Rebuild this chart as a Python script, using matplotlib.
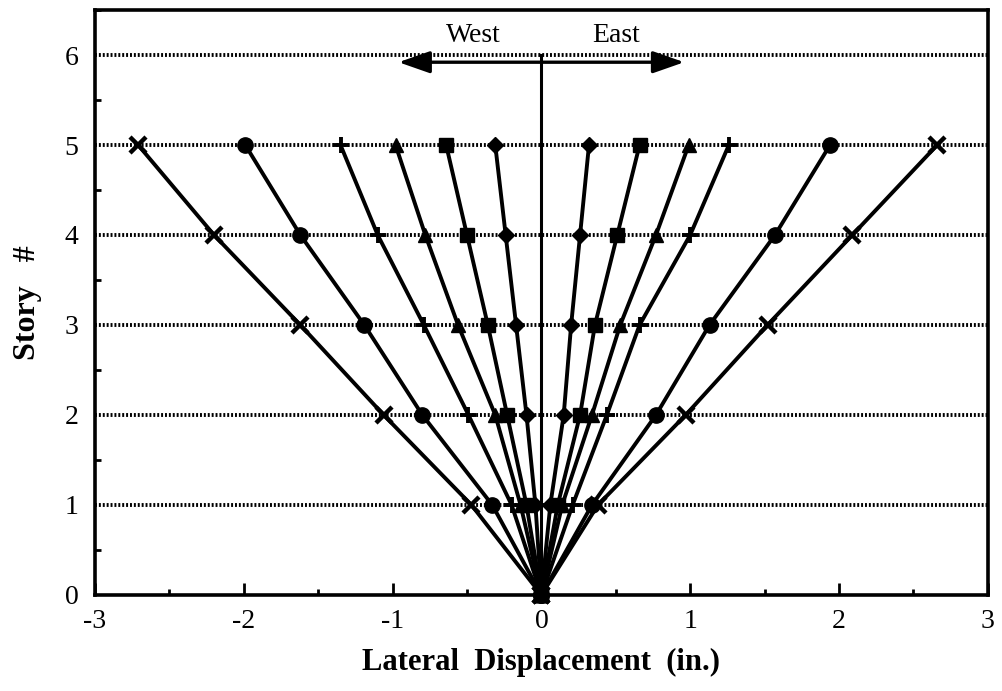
import matplotlib
matplotlib.use("Agg")
import matplotlib.pyplot as plt
from matplotlib.ticker import MultipleLocator

plt.rcParams["font.family"] = ["Liberation Serif", "DejaVu Serif"]

# story levels and peak lateral displacement (in.) per load case
stories = [0, 1, 2, 3, 4, 5]
west_x = [0, -0.47, -1.06, -1.62, -2.20, -2.71]
east_x = [0, 0.38, 0.97, 1.52, 2.09, 2.66]
west_circle = [0, -0.33, -0.80, -1.19, -1.62, -1.99]
east_circle = [0, 0.34, 0.77, 1.13, 1.57, 1.94]
west_plus = [0, -0.20, -0.49, -0.79, -1.10, -1.35]
east_plus = [0, 0.21, 0.44, 0.66, 1.00, 1.26]
west_tri = [0, -0.14, -0.31, -0.56, -0.78, -0.98]
east_tri = [0, 0.14, 0.34, 0.53, 0.77, 0.99]
west_square = [0, -0.10, -0.23, -0.36, -0.50, -0.64]
east_square = [0, 0.11, 0.26, 0.36, 0.51, 0.66]
west_diamond = [0, -0.04, -0.10, -0.17, -0.24, -0.31]
east_diamond = [0, 0.06, 0.15, 0.20, 0.26, 0.32]

floor_levels = [1, 2, 3, 4, 5, 6]
x_ticks = [-3, -2, -1, 0, 1, 2, 3]
y_ticks = [0, 1, 2, 3, 4, 5, 6]

series = [
    (west_x, east_x, "x", 12, 3.2),
    (west_circle, east_circle, "o", 11, 1.0),
    (west_plus, east_plus, "+", 12, 2.8),
    (west_tri, east_tri, "^", 10.5, 1.0),
    (west_square, east_square, "s", 10, 1.0),
    (west_diamond, east_diamond, "D", 8.5, 1.0),
]

fig = plt.figure(figsize=(10.02, 6.91), dpi=100)
ax = fig.add_axes([0.0948, 0.139, 0.891, 0.8465])

for level in floor_levels:
    ax.axhline(level, color="black", lw=2.8, ls=(0, (0.5, 0.5)), zorder=1)

ax.plot([0, 0], [0, 6], color="black", lw=2.2, zorder=2)

for west, east, marker, ms, mew in series:
    for xs in (west, east):
        ax.plot(xs, stories, color="black", lw=2.8, marker=marker, ms=ms,
                mew=mew, mfc="black", mec="black", zorder=3, clip_on=False)

ax.plot([0], [0], marker="s", ms=10, color="black", zorder=4, clip_on=False)

ax.annotate("", xy=(-0.96, 5.92), xytext=(0.96, 5.92),
            arrowprops=dict(arrowstyle="<|-|>,head_length=0.8,head_width=0.28",
                            mutation_scale=24, lw=2.4, color="black",
                            shrinkA=0, shrinkB=0), zorder=5)
ax.text(-0.46, 6.22, "West", ha="center", va="center", fontsize=20)
ax.text(0.50, 6.22, "East", ha="center", va="center", fontsize=20)

ax.set_xlim(-3, 3)
ax.set_ylim(0, 6.5)
ax.set_xticks(x_ticks)
ax.set_xticklabels([str(v) for v in x_ticks])
ax.set_yticks(y_ticks)
ax.xaxis.set_minor_locator(MultipleLocator(0.5))
ax.yaxis.set_minor_locator(MultipleLocator(0.5))
ax.tick_params(axis="x", which="major", direction="in", length=9, width=2,
               labelsize=20, pad=10)
ax.tick_params(axis="x", which="minor", direction="in", length=4.5, width=2)
ax.tick_params(axis="y", which="major", direction="in", length=0,
               labelsize=20, pad=12)
ax.tick_params(axis="y", which="minor", direction="in", length=4, width=2)

for spine in ax.spines.values():
    spine.set_linewidth(2.6)

ax.set_xlabel("Lateral  Displacement  (in.)", fontsize=22, fontweight="bold",
              labelpad=10)
ax.set_ylabel("Story   #", fontsize=23, fontweight="bold", labelpad=16)

fig.savefig("out.png", dpi=100)
